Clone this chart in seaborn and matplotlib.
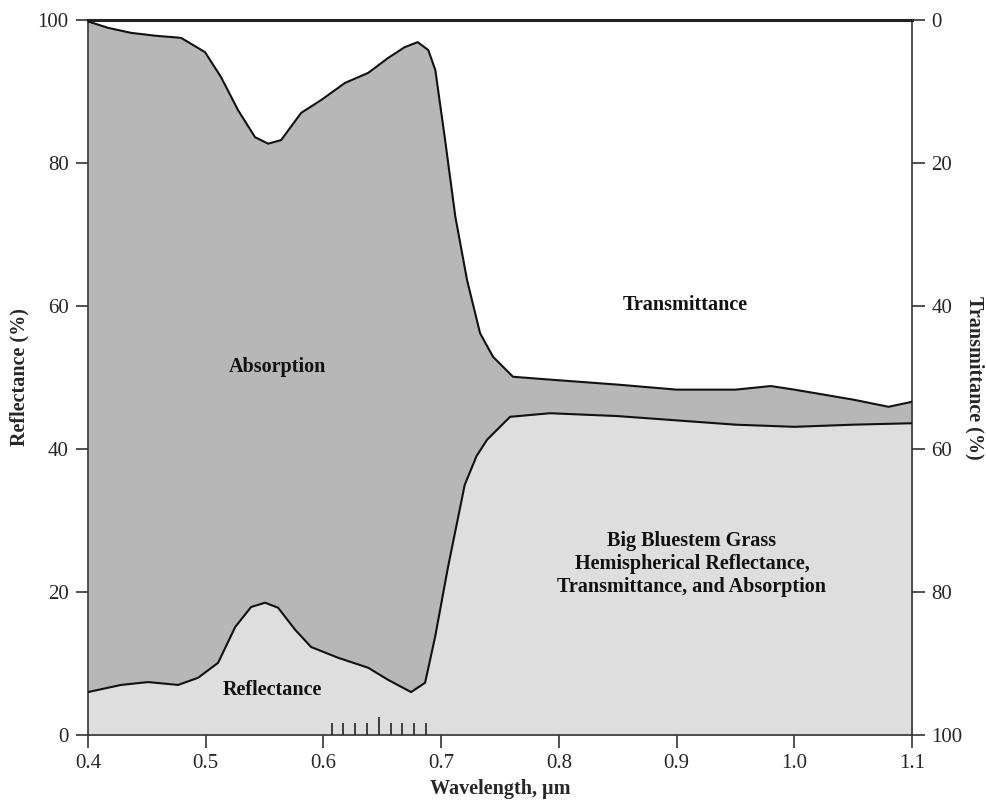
import matplotlib.pyplot as plt
import pandas as pd
import seaborn as sns

# wavelength (um) and reflectance (%) for the lower curve
refl_wl = [0.400, 0.428, 0.451, 0.4765, 0.4935, 0.5105, 0.525, 0.5385, 0.5504,
           0.5614, 0.576, 0.5895, 0.6124, 0.638, 0.655, 0.6744, 0.6863, 0.6948,
           0.7058, 0.72, 0.73, 0.739, 0.7585, 0.7925, 0.85, 0.90, 0.95, 1.00,
           1.05, 1.10]
reflectance = [6.0, 7.0, 7.4, 7.0, 8.0, 10.1, 15.1, 17.9, 18.5,
               17.8, 14.7, 12.3, 10.8, 9.4, 7.7, 6.0, 7.3, 13.7,
               23.5, 35.0, 39.0, 41.3, 44.5, 45.0, 44.6, 44.0, 43.4, 43.1,
               43.4, 43.6]

# wavelength (um) and transmittance (%) for the upper curve (right axis)
trans_wl = [0.400, 0.417, 0.4365, 0.457, 0.479, 0.4994, 0.513, 0.5274, 0.5419,
            0.553, 0.564, 0.581, 0.598, 0.6183, 0.638, 0.655, 0.669, 0.680,
            0.689, 0.695, 0.703, 0.712, 0.722, 0.733, 0.744, 0.761, 0.7925,
            0.85, 0.90, 0.95, 0.98, 1.00, 1.05, 1.08, 1.10]
transmittance = [0.2, 1.1, 1.8, 2.2, 2.5, 4.5, 8.0, 12.6, 16.4,
                 17.3, 16.8, 13.0, 11.2, 8.8, 7.4, 5.3, 3.8, 3.1,
                 4.2, 7.0, 16.4, 27.5, 36.4, 43.8, 47.1, 49.9, 50.3,
                 51.0, 51.7, 51.7, 51.2, 51.7, 53.1, 54.1, 53.4]

# small marks along the wavelength axis
band_marks = [0.607, 0.617, 0.627, 0.637, 0.647, 0.657, 0.667, 0.677, 0.687]

df_r = pd.DataFrame({"wl": refl_wl, "value": reflectance})
df_t = pd.DataFrame({"wl": trans_wl, "value": [100 - t for t in transmittance]})

sns.set_style("ticks")
plt.rcParams["font.family"] = ["Liberation Serif", "DejaVu Serif"]

fig = plt.figure(figsize=(9.87, 8.09), dpi=100)
ax = fig.add_axes([0.0892, 0.0915, 0.8349, 0.8838])

ax.fill_between(df_r["wl"], 0, df_r["value"], color="#dedede", lw=0, zorder=1)
ax.fill_between(df_t["wl"], 0, df_t["value"], color="#b7b7b7", lw=0, zorder=0.5)
line_kw = dict(color="#111111", lw=1.5, solid_joinstyle="round", ax=ax, zorder=3)
sns.lineplot(data=df_r, x="wl", y="value", **line_kw)
sns.lineplot(data=df_t, x="wl", y="value", **line_kw)

for m in band_marks:
    ax.vlines(m, 0, 2.5 if m == 0.647 else 1.7, color="#222222", lw=1.2, zorder=4)

ax.set_xlim(0.4, 1.1)
ax.set_ylim(0, 100)
ax.set_xticks([0.4, 0.5, 0.6, 0.7, 0.8, 0.9, 1.0, 1.1])
ax.set_xticklabels(["0.4", "0.5", "0.6", "0.7", "0.8", "0.9", "1.0", "1.1"])
ax.set_yticks([0, 20, 40, 60, 80, 100])
ax.set_xlabel("Wavelength, µm", fontsize=14.5, fontweight="bold", labelpad=4)
ax.set_ylabel("Reflectance (%)", fontsize=14.5, fontweight="bold", labelpad=6)
ax.tick_params(axis="both", labelsize=15, length=9, width=1.2, color="#333333",
               direction="out", pad=5)
for side in ["left", "bottom", "right"]:
    ax.spines[side].set_color("#333333")
    ax.spines[side].set_linewidth(1.2)
ax.spines["top"].set_color("#222222")
ax.spines["top"].set_linewidth(2.2)

ax2 = ax.twinx()
ax2.set_ylim(100, 0)
ax2.set_yticks([0, 20, 40, 60, 80, 100])
ax2.set_ylabel("Transmittance (%)", fontsize=14.5, fontweight="bold",
               rotation=270, labelpad=16)
ax2.tick_params(axis="y", labelsize=15, length=9, width=1.2, color="#333333", pad=5)
for side in ax2.spines:
    ax2.spines[side].set_visible(False)

txt = dict(fontsize=14.5, fontweight="bold", ha="center", va="center", color="#111111")
ax.text(0.561, 51.5, "Absorption", **txt)
ax.text(0.907, 60.1, "Transmittance", **txt)
ax.text(0.557, 6.3, "Reflectance", **txt)
ax.text(0.913, 23.9, "Big Bluestem Grass\nHemispherical Reflectance,\nTransmittance, and Absorption",
        linespacing=1.2, **txt)

fig.savefig("out.png", dpi=100)
